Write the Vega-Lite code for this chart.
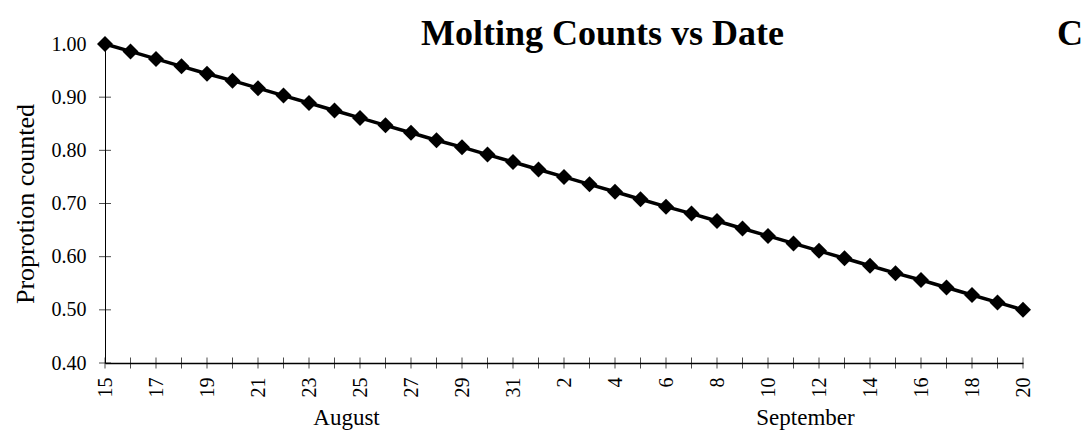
{
  "$schema": "https://vega.github.io/schema/vega-lite/v6.json",
  "autosize": "none",
  "padding": {"left": 105, "top": 44, "right": 66, "bottom": 73},
  "width": 918,
  "height": 319,
  "background": "white",
  "config": {
    "view": {"stroke": null},
    "font": "Liberation Serif",
    "axis": {"grid": false, "domainColor": "black", "labelColor": "black", "titleColor": "black", "labelFont": "Liberation Serif", "titleFont": "Liberation Serif"}
  },
  "datasets": {
    "counts": [
      {"date": "Aug 15", "proportion": 1.000},
      {"date": "Aug 16", "proportion": 0.986},
      {"date": "Aug 17", "proportion": 0.972},
      {"date": "Aug 18", "proportion": 0.958},
      {"date": "Aug 19", "proportion": 0.944},
      {"date": "Aug 20", "proportion": 0.931},
      {"date": "Aug 21", "proportion": 0.917},
      {"date": "Aug 22", "proportion": 0.903},
      {"date": "Aug 23", "proportion": 0.889},
      {"date": "Aug 24", "proportion": 0.875},
      {"date": "Aug 25", "proportion": 0.861},
      {"date": "Aug 26", "proportion": 0.847},
      {"date": "Aug 27", "proportion": 0.833},
      {"date": "Aug 28", "proportion": 0.819},
      {"date": "Aug 29", "proportion": 0.806},
      {"date": "Aug 30", "proportion": 0.792},
      {"date": "Aug 31", "proportion": 0.778},
      {"date": "Sep 1", "proportion": 0.764},
      {"date": "Sep 2", "proportion": 0.750},
      {"date": "Sep 3", "proportion": 0.736},
      {"date": "Sep 4", "proportion": 0.722},
      {"date": "Sep 5", "proportion": 0.708},
      {"date": "Sep 6", "proportion": 0.694},
      {"date": "Sep 7", "proportion": 0.681},
      {"date": "Sep 8", "proportion": 0.667},
      {"date": "Sep 9", "proportion": 0.653},
      {"date": "Sep 10", "proportion": 0.639},
      {"date": "Sep 11", "proportion": 0.625},
      {"date": "Sep 12", "proportion": 0.611},
      {"date": "Sep 13", "proportion": 0.597},
      {"date": "Sep 14", "proportion": 0.583},
      {"date": "Sep 15", "proportion": 0.569},
      {"date": "Sep 16", "proportion": 0.556},
      {"date": "Sep 17", "proportion": 0.542},
      {"date": "Sep 18", "proportion": 0.528},
      {"date": "Sep 19", "proportion": 0.514},
      {"date": "Sep 20", "proportion": 0.500}
    ],
    "yticks": [
      {"v": 0.4}, {"v": 0.5}, {"v": 0.6}, {"v": 0.7}, {"v": 0.8}, {"v": 0.9}, {"v": 1.0}
    ],
    "months": [
      {"date": "Aug 24", "month": "August"},
      {"date": "Sep 11", "month": "September"}
    ]
  },
  "layer": [
    {
      "data": {"name": "counts"},
      "mark": {"type": "tick", "orient": "vertical", "size": 11, "thickness": 1, "color": "black"},
      "encoding": {
        "x": {
          "field": "date", "type": "ordinal",
          "scale": {"type": "point", "padding": 0, "domain": ["Aug 15","Aug 16","Aug 17","Aug 18","Aug 19","Aug 20","Aug 21","Aug 22","Aug 23","Aug 24","Aug 25","Aug 26","Aug 27","Aug 28","Aug 29","Aug 30","Aug 31","Sep 1","Sep 2","Sep 3","Sep 4","Sep 5","Sep 6","Sep 7","Sep 8","Sep 9","Sep 10","Sep 11","Sep 12","Sep 13","Sep 14","Sep 15","Sep 16","Sep 17","Sep 18","Sep 19","Sep 20"]},
          "axis": {
            "title": null,
            "ticks": false,
            "domainWidth": 1.5,
            "labelAngle": -90,
            "labelAlign": "right",
            "labelBaseline": "middle",
            "labelFontSize": 20,
            "labelPadding": 14,
            "labelOverlap": false,
            "labelExpr": "(indexof(datum.value,'Aug')==0 ? parseInt(substring(datum.value,4))%2==1 : parseInt(substring(datum.value,4))%2==0) ? substring(datum.value,4) : ''"
          }
        },
        "y": {"datum": 0.4, "type": "quantitative"}
      }
    },
    {
      "data": {"name": "yticks"},
      "mark": {"type": "tick", "orient": "horizontal", "size": 12, "thickness": 1, "color": "black"},
      "encoding": {
        "x": {"datum": "Aug 15", "type": "ordinal"},
        "y": {"field": "v", "type": "quantitative"}
      }
    },
    {
      "data": {"name": "counts"},
      "mark": {
        "type": "line",
        "color": "black",
        "strokeWidth": 3.5,
        "point": {"filled": true, "shape": "diamond", "size": 256, "color": "black", "opacity": 1}
      },
      "encoding": {
        "x": {"field": "date", "type": "ordinal"},
        "y": {
          "field": "proportion", "type": "quantitative",
          "scale": {"domain": [0.4, 1.0], "zero": false, "nice": false},
          "axis": {
            "title": "Proprotion counted",
            "titleFontSize": 26,
            "titleFontWeight": "normal",
            "titlePadding": 13,
            "values": [0.4, 0.5, 0.6, 0.7, 0.8, 0.9, 1.0],
            "format": ".2f",
            "ticks": false,
            "domainWidth": 1,
            "labelFontSize": 20,
            "labelPadding": 19
          }
        }
      }
    },
    {
      "data": {"name": "months"},
      "mark": {"type": "text", "fontSize": 23, "color": "black", "align": "center", "baseline": "alphabetic", "dy": 62, "dx": 12},
      "encoding": {
        "x": {"field": "date", "type": "ordinal"},
        "y": {"datum": 0.4, "type": "quantitative"},
        "text": {"field": "month"}
      }
    },
    {
      "data": {"values": [{"date": "Sep 1", "label": "Molting Counts vs Date"}]},
      "mark": {"type": "text", "fontSize": 36, "fontWeight": "bold", "color": "black", "align": "center", "baseline": "alphabetic", "dx": 64, "dy": 1},
      "encoding": {
        "x": {"field": "date", "type": "ordinal"},
        "y": {"datum": 1.0, "type": "quantitative"},
        "text": {"field": "label"}
      }
    },
    {
      "data": {"values": [{"date": "Sep 20", "label": "C"}]},
      "mark": {"type": "text", "fontSize": 36, "fontWeight": "bold", "color": "black", "align": "center", "baseline": "alphabetic", "dx": 47, "dy": 1},
      "encoding": {
        "x": {"field": "date", "type": "ordinal"},
        "y": {"datum": 1.0, "type": "quantitative"},
        "text": {"field": "label"}
      }
    }
  ]
}
